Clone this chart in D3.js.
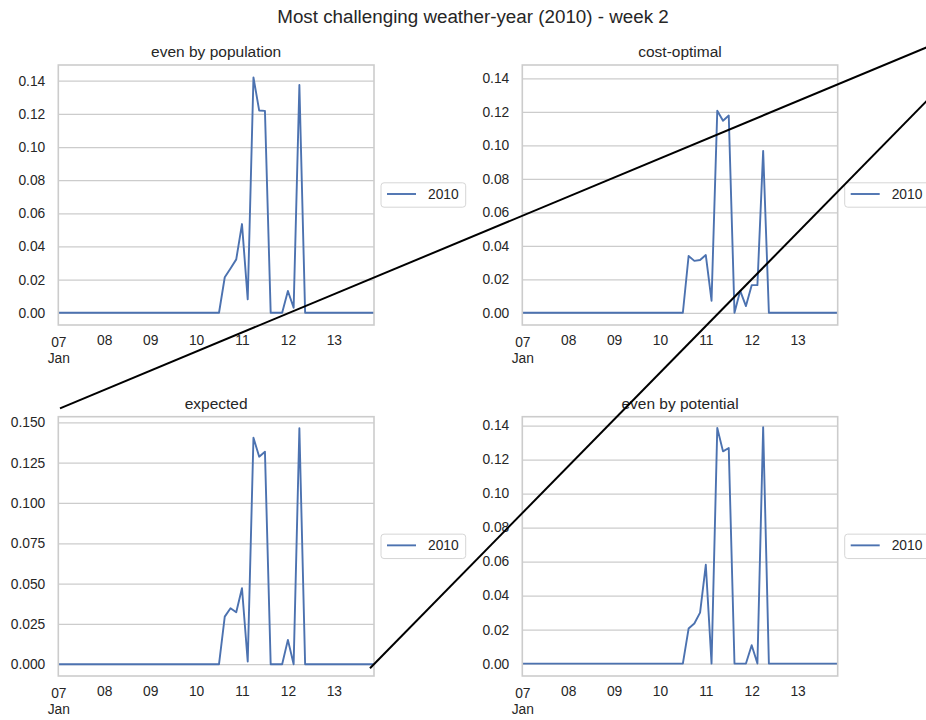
<!DOCTYPE html>
<html>
<head>
<meta charset="utf-8">
<script src="https://cdn.jsdelivr.net/npm/d3@7/dist/d3.min.js"></script>
<style>
  html, body { margin: 0; padding: 0; background: #ffffff; }
  svg { display: block; }
  text { font-family: "Liberation Sans", Arial, "DejaVu Sans", sans-serif; fill: #262626; }
</style>
</head>
<body>
<svg id="chart" width="926" height="720"></svg>
<script>
// 3-hourly shortfall share, week 2 of the 2010 weather-year (07 Jan 00:00 .. 13 Jan 21:00)
const seriesName = "2010";
const panelTitles = ["even by population", "cost-optimal", "expected", "even by potential"];

const evenByPopulation = [
  0, 0, 0, 0, 0, 0, 0, 0,
  0, 0, 0, 0, 0, 0, 0, 0,
  0, 0, 0, 0, 0, 0, 0, 0,
  0, 0, 0, 0, 0, 0.0214, 0.0267, 0.0322,
  0.0535, 0.0081, 0.1420, 0.1220, 0.1218, 0, 0, 0,
  0.0131, 0.0030, 0.1374, 0, 0, 0, 0, 0,
  0, 0, 0, 0, 0, 0, 0, 0
];
const costOptimal = [
  0, 0, 0, 0, 0, 0, 0, 0,
  0, 0, 0, 0, 0, 0, 0, 0,
  0, 0, 0, 0, 0, 0, 0, 0,
  0, 0, 0, 0, 0, 0.0339, 0.0310, 0.0315,
  0.0345, 0.0072, 0.1207, 0.1147, 0.1178, 0, 0.0131, 0.0040,
  0.0165, 0.0165, 0.0967, 0, 0, 0, 0, 0,
  0, 0, 0, 0, 0, 0, 0, 0
];
const expected = [
  0, 0, 0, 0, 0, 0, 0, 0,
  0, 0, 0, 0, 0, 0, 0, 0,
  0, 0, 0, 0, 0, 0, 0, 0,
  0, 0, 0, 0, 0, 0.0295, 0.0347, 0.0322,
  0.0471, 0.0017, 0.1405, 0.1287, 0.1318, 0, 0, 0,
  0.0151, 0, 0.1463, 0, 0, 0, 0, 0,
  0, 0, 0, 0, 0, 0, 0, 0
];
const evenByPotential = [
  0, 0, 0, 0, 0, 0, 0, 0,
  0, 0, 0, 0, 0, 0, 0, 0,
  0, 0, 0, 0, 0, 0, 0, 0,
  0, 0, 0, 0, 0, 0.0206, 0.0236, 0.0300,
  0.0581, 0, 0.1386, 0.1248, 0.1268, 0, 0, 0,
  0.0108, 0, 0.1390, 0, 0, 0, 0, 0,
  0, 0, 0, 0, 0, 0, 0, 0
];

// y-axis limits and tick labels per panel
const yLimits = [[-0.0074, 0.1495], [-0.0073, 0.1480], [-0.0073, 0.1535], [-0.0073, 0.1452]];
const yTicksTwoDecimals = ["0.00", "0.02", "0.04", "0.06", "0.08", "0.10", "0.12", "0.14"];
const yTicksThreeDecimals = ["0.000", "0.025", "0.050", "0.075", "0.100", "0.125", "0.150"];
const xTickLabels = ["07", "08", "09", "10", "11", "12", "13"];
const xMonthLabel = "Jan";
const figureTitle = "Most challenging weather-year (2010) - week 2";

const panelValues = [evenByPopulation, costOptimal, expected, evenByPotential];
const panelTicks = [yTicksTwoDecimals, yTicksTwoDecimals, yTicksThreeDecimals, yTicksTwoDecimals];

// time index
const t0 = new Date(Date.UTC(2010, 0, 7, 0));
const times = d3.utcHour.every(3).range(t0, new Date(Date.UTC(2010, 0, 14, 0)));
const dayTicks = d3.utcDay.range(t0, new Date(Date.UTC(2010, 0, 14, 0)));

const svg = d3.select("#chart");
const GRID = "#cccccc";
const LINE = "#4c72b0";
const TICK_FS = 13.8;

// axes rectangles (left, top, right, bottom)
const boxes = [
  [58.3, 65, 374, 325],
  [522.3, 65, 837.7, 325],
  [58.3, 416.7, 374, 676],
  [522.3, 416.7, 837.7, 676]
];

svg.append("text")
  .attr("x", 473).attr("y", 22.7)
  .attr("text-anchor", "middle")
  .style("font-size", "18.8px")
  .text(figureTitle);

panelTitles.forEach((title, i) => {
  const [x0, y0, x1, y1] = boxes[i];
  const values = panelValues[i];
  const x = d3.scaleUtc().domain([times[0], times[times.length - 1]]).range([x0, x1]);
  const y = d3.scaleLinear().domain(yLimits[i]).range([y1, y0]);
  const g = svg.append("g");

  // horizontal grid + y tick labels
  const tickVals = panelTicks[i].map(Number);
  const yAxis = d3.axisLeft(y).tickValues(tickVals)
    .tickFormat((d, k) => panelTicks[i][k])
    .tickSize(-(x1 - x0)).tickPadding(13);
  const ya = g.append("g").attr("transform", `translate(${x0},0)`).call(yAxis);
  ya.select(".domain").remove();
  ya.selectAll(".tick line").attr("stroke", GRID).attr("stroke-width", 1.25);
  ya.selectAll(".tick text")
    .style("font-size", TICK_FS + "px")
    .style("font-family", '"Liberation Sans", Arial, sans-serif')
    .attr("fill", "#262626");

  // x tick labels (day of month, month on the first)
  const xAxis = d3.axisBottom(x).tickValues(dayTicks)
    .tickFormat((d, k) => xTickLabels[k]).tickSize(0).tickPadding(0);
  const xa = g.append("g").attr("transform", `translate(0,${y1})`).call(xAxis);
  xa.select(".domain").remove();
  xa.selectAll(".tick text")
    .attr("dy", null)
    .attr("y", (d, k) => k === 0 ? 22.3 : 20)
    .style("font-size", TICK_FS + "px")
    .style("font-family", '"Liberation Sans", Arial, sans-serif')
    .attr("fill", "#262626");
  xa.select(".tick").append("text")
    .attr("y", 37.7).attr("text-anchor", "middle")
    .style("font-size", TICK_FS + "px")
    .attr("fill", "#262626")
    .text(xMonthLabel);

  // series line
  const line = d3.line().x((d, k) => x(times[k])).y(d => y(d));
  g.append("path")
    .datum(values)
    .attr("fill", "none")
    .attr("stroke", LINE)
    .attr("stroke-width", 1.9)
    .attr("stroke-linejoin", "round")
    .attr("d", line);

  // frame
  g.append("rect")
    .attr("x", x0).attr("y", y0)
    .attr("width", x1 - x0).attr("height", y1 - y0)
    .attr("fill", "none").attr("stroke", GRID).attr("stroke-width", 1.6);

  // panel title
  g.append("text")
    .attr("x", (x0 + x1) / 2).attr("y", y0 - 8)
    .attr("text-anchor", "middle")
    .style("font-size", "15.5px")
    .text(title);

  // legend, centred to the right of the axes
  const lx = x1 + 7, ly = (y0 + y1) / 2 - 12.2;
  const lg = g.append("g").attr("transform", `translate(${lx},${ly})`);
  lg.append("rect")
    .attr("width", 84.7).attr("height", 24.4).attr("rx", 3)
    .attr("fill", "#ffffff").attr("fill-opacity", 0.8)
    .attr("stroke", "#d6d6d6").attr("stroke-width", 1);
  lg.append("line")
    .attr("x1", 6).attr("x2", 35).attr("y1", 11.2).attr("y2", 11.2)
    .attr("stroke", LINE).attr("stroke-width", 1.9);
  lg.append("text")
    .attr("x", 47).attr("y", 16.3)
    .style("font-size", TICK_FS + "px")
    .text(seriesName);
});

// two straight black connector strokes across the figure
const connectors = [
  [[60, 408.3], [960, 33.5]],
  [[370, 668.3], [960, 67]]
];
svg.selectAll("line.connector")
  .data(connectors)
  .join("line")
  .attr("class", "connector")
  .attr("x1", d => d[0][0]).attr("y1", d => d[0][1])
  .attr("x2", d => d[1][0]).attr("y2", d => d[1][1])
  .attr("stroke", "#000000").attr("stroke-width", 2);
</script>
</body>
</html>
